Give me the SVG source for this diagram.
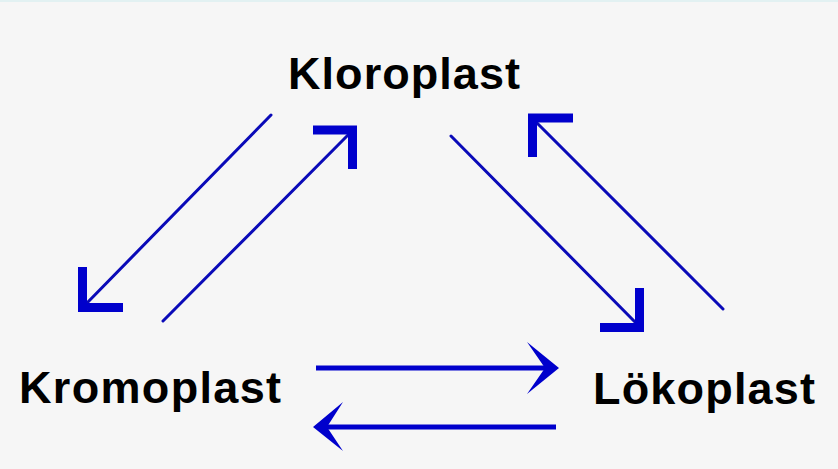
<svg xmlns="http://www.w3.org/2000/svg" width="838" height="469" viewBox="0 0 838 469">
  <style>
    .label { font-family: "Liberation Sans", Arial, sans-serif; font-weight: bold; font-size: 45px; fill: #000; }
    .shaft { stroke: #0a0ab8; stroke-width: 3; stroke-linecap: round; fill: none; }
    .head { stroke: #0000cc; stroke-width: 9; stroke-linecap: butt; stroke-linejoin: miter; fill: none; }
    .hshaft { stroke: #0000cc; stroke-width: 5; fill: none; }
    .hhead { fill: #0000cc; }
  </style>
  <rect x="0" y="0" width="838" height="469" fill="#f6f6f6"/>
  <rect x="0" y="0" width="838" height="2" fill="#e2f1f2"/>

  <g id="kloroplast">
    <text class="label" x="288" y="89" textLength="232" lengthAdjust="spacing">Kloroplast</text>
  </g>
  <g id="kromoplast">
    <text class="label" x="19" y="403" textLength="262" lengthAdjust="spacing">Kromoplast</text>
  </g>
  <g id="lokoplast">
    <text class="label" x="593" y="404" textLength="222" lengthAdjust="spacing">Lökoplast</text>
  </g>

  <g id="connectors">
    <!-- Kloroplast to Kromoplast -->
    <line class="shaft" x1="271" y1="115" x2="86" y2="304"/>
    <polyline class="head" points="82.5,267 82.5,307.5 123,307.5"/>
    <!-- Kromoplast to Kloroplast -->
    <line class="shaft" x1="163" y1="321" x2="350" y2="133"/>
    <polyline class="head" points="313,130 352.5,130 352.5,169"/>
    <!-- Kloroplast to Lokoplast -->
    <line class="shaft" x1="451" y1="136" x2="637" y2="324"/>
    <polyline class="head" points="639.5,288 639.5,327.5 600,327.5"/>
    <!-- Lokoplast to Kloroplast -->
    <line class="shaft" x1="723" y1="309" x2="535" y2="121"/>
    <polyline class="head" points="573,118 532.5,118 532.5,157"/>
    <!-- Kromoplast to Lokoplast -->
    <line class="hshaft" x1="316" y1="368" x2="548" y2="368"/>
    <polygon class="hhead" points="559,368 527,342 545,368 527,394"/>
    <!-- Lokoplast to Kromoplast -->
    <line class="hshaft" x1="556" y1="427" x2="324" y2="427"/>
    <polygon class="hhead" points="313,427 343,402 327,427 343,451"/>
  </g>
</svg>
